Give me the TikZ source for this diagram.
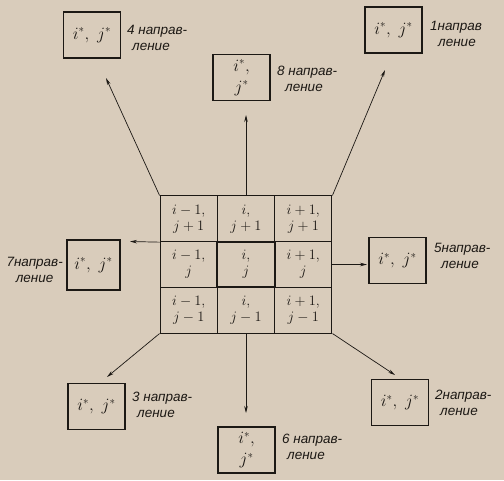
\documentclass[tikz,border=0pt]{standalone}
\usepackage{fontspec}
\setmainfont{Liberation Sans}
\usetikzlibrary{arrows.meta}
\definecolor{paper}{RGB}{217,204,187}
\definecolor{ink}{RGB}{28,24,20}
\begin{document}
\begin{tikzpicture}[x=1pt,y=-1pt,
  cell/.style={draw=ink,line width=1pt,minimum width=57.3pt,minimum height=45.7pt,inner sep=0pt,align=center,text=ink,font=\fontsize{14}{16}\selectfont},
  dirbox/.style={draw=ink,line width=1.3pt,minimum width=57pt,minimum height=46pt,inner sep=0pt,align=center,text=ink,font=\fontsize{16}{21}\selectfont},
  dirlab/.style={inner sep=0pt,align=left,text=ink,font=\itshape\fontsize{13.5}{16}\selectfont},
  ray/.style={draw=ink,line width=0.7pt,-{Stealth[length=7pt,width=3.5pt]}}]
\fill[paper] (0,0) rectangle (504,480);
\useasboundingbox (0,0) rectangle (504,480);
% neighbourhood of cell (i,j)
\node[cell] (ul) at (188.7,218.8) {$i-1,$\\$j+1$};
\node[cell] (um) at (246,218.8) {$i,$\\$j+1$};
\node[cell] (ur) at (303.3,218.8) {$i+1,$\\$j+1$};
\node[cell] (ml) at (188.7,264.5) {$i-1,$\\$j$};
\node[cell] (mr) at (303.3,264.5) {$i+1,$\\$j$};
\node[cell] (ll) at (188.7,310.2) {$i-1,$\\$j-1$};
\node[cell] (lm) at (246,310.2) {$i,$\\$j-1$};
\node[cell] (lr) at (303.3,310.2) {$i+1,$\\$j-1$};
\node[cell,line width=2pt] (mm) at (246,264.5) {$i,$\\$j$};
% boxes of the eight directions
\node[dirbox] (b1) at (393.5,30) {$i^*,\;j^*$};
\node[dirbox] (b2) at (400,402.5) {$i^*,\;j^*$};
\node[dirbox] (b3) at (96.5,406.5) {$i^*,\;j^*$};
\node[dirbox] (b4) at (92,35) {$i^*,\;j^*$};
\node[dirbox] (b5) at (397.5,260.5) {$i^*,\;j^*$};
\node[dirbox] (b6) at (246.5,450) {$i^*,$\\$j^*$};
\node[dirbox,minimum width=53pt,minimum height=50pt] (b7) at (93.5,265) {$i^*,\;j^*$};
\node[dirbox] (b8) at (241.5,77.5) {$i^*,$\\$j^*$};
% labels
\node[dirlab,anchor=west] (l1) at (430,33.5) {1направ\\\hspace*{8pt}ление};
\node[dirlab,anchor=west] (l2) at (435,403) {2направ-\\\hspace*{5pt}ление};
\node[dirlab,anchor=west] (l3) at (132,405) {3 направ-\\\hspace*{5pt}ление};
\node[dirlab,anchor=west] (l4) at (127,37.5) {4 направ-\\\hspace*{5pt}ление};
\node[dirlab,anchor=west] (l5) at (434,256) {5направ-\\\hspace*{7pt}ление};
\node[dirlab,anchor=west] (l6) at (282,447) {6 направ-\\\hspace*{5pt}ление};
\node[dirlab,anchor=east,align=center] (l7) at (63,270) {7направ-\\ление};
\node[dirlab,anchor=west] (l8) at (277,78.5) {8 направ-\\\hspace*{8pt}ление};
% arrow tips
\coordinate (t1) at (385,70);
\coordinate (t2) at (395,375);
\coordinate (t3) at (107,377);
\coordinate (t4) at (106,78);
\coordinate (t5) at (367,264.5);
\coordinate (t6) at (246,413);
\coordinate (t7) at (130,241.5);
\coordinate (t8) at (246,115);
\draw[ray] (ur.north east) -- (t1);
\draw[ray] (lr.south east) -- (t2);
\draw[ray] (ll.south west) -- (t3);
\draw[ray] (ul.north west) -- (t4);
\draw[ray] (mr.east) -- (t5);
\draw[ray] (lm.south) -- (t6);
\draw[ray] (ul.south west) -- (t7);
\draw[ray] (um.north) -- (t8);
\end{tikzpicture}
\end{document}
